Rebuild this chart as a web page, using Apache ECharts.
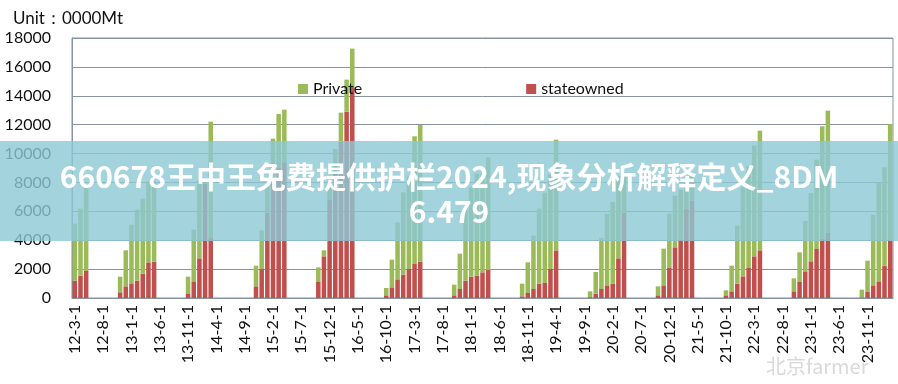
<!DOCTYPE html>
<html><head><meta charset="utf-8">
<script src="https://cdn.jsdelivr.net/npm/echarts/dist/echarts.min.js"></script>
<style>html,body{margin:0;padding:0;background:#fff}#c{width:898px;height:384px}</style>
</head><body><div id="c"></div>
<script>
// Category axis: monthly from 2012-3 to 2024-3 (labels "YY-M-1")
const startYear = 2012, startMonth = 3, monthCount = 145;
const categories = [];
for (let k = 0; k < monthCount; k++) {
  const t = (startMonth - 1) + k;
  const y = startYear + Math.floor(t / 12), m = (t % 12) + 1;
  categories.push(String(y % 100).padStart(2, '0') + '-' + m + '-1');
}
const yMin = 0, yMax = 18000, yStep = 2000;
const seriesNames = ['Private', 'stateowned'];

// stateowned (bottom, red)
const stateowned = [
  1200,1546,1915, null,null,null,null,null,
  392,808,1015,1200,1685,2470,2515, null,null,null,null,null,
  277,1154,2746,7900,4200, null,null,null,null,null,null,null,
  808,2008,5900,8000,9000,9400, null,null,null,null,null,
  1108,2885,6800,8800,10840,12900,14600, null,null,null,null,null,
  185,738,1292,1616,2008,2354,2515, null,null,null,null,null,
  185,623,1200,1477,1546,1777,1939, null,null,null,null,null,
  115,346,623,992,1038,2008,3300, null,null,null,null,null,
  60,300,623,877,992,2746,5900, null,null,null,null,null,
  185,877,2077,3508,4039,6162,6739, null,null,null,null,null,
  185,462,992,1500,2077,2885,3300, null,null,null,null,null,
  462,1108,1846,2539,3393,4108,4500, null,null,null,null,null,
  50,415,877,1154,2239,4000
];
// Private (top, green)
const privateVals = [
  3947,4639,5817, null,null,null,null,null,
  1085,2492,4060,4913,5189,5602,5557, null,null,null,null,null,
  1200,3577,5444,340,8010, null,null,null,null,null,null,null,
  1431,2677,1901,3032,3740,3640, null,null,null,null,null,
  1015,415,900,1517,1992,2217,2664, null,null,null,null,null,
  507,1916,3947,5700,6392,8840,9463, null,null,null,null,null,
  738,2447,4870,6185,7063,6832,7801, null,null,null,null,null,
  877,2124,3693,5193,6255,6532,7663, null,null,null,null,null,
  402,1500,3531,4962,5655,5724,2800, null,null,null,null,null,
  623,2539,3762,3577,3462,1847,1731, null,null,null,null,null,
  346,1777,4016,6162,7040,7663,8286, null,null,null,null,null,
  900,2054,3485,4731,6185,7778,8471, null,null,null,null,null,
  527,2170,4893,6809,6809,8048
];

const chart = echarts.init(document.getElementById('c'), null, {renderer: 'canvas'});
const axisGray = '#8793a0';
chart.setOption({
  animation: false,
  textStyle: {fontFamily: 'Lato'},
  title: {
    text: 'Unit：0000Mt', left: 8, top: 5,
    textStyle: {fontSize: 17, fontWeight: 'normal', color: '#111', fontFamily: 'Lato'}
  },
  legend: {
    data: seriesNames, left: 293, top: 76, itemWidth: 10, itemHeight: 10, itemGap: 164,
    icon: 'rect', textStyle: {fontSize: 16, color: '#111', fontFamily: 'Lato'}
  },
  grid: {left: 72, right: 5, top: 38, bottom: 86, show: true, borderColor: axisGray, borderWidth: 1},
  xAxis: {
    type: 'category', data: categories,
    axisLine: {lineStyle: {color: axisGray}},
    axisTick: {interval: 4, length: 5, lineStyle: {color: axisGray}},
    axisLabel: {interval: 4, rotate: 90, fontSize: 16, color: '#111', margin: 7, fontFamily: 'Lato'}
  },
  yAxis: {
    type: 'value', min: yMin, max: yMax, interval: yStep,
    axisLine: {show: true, lineStyle: {color: axisGray}},
    axisLabel: {fontSize: 16, color: '#111', margin: 21, fontFamily: 'Lato',
      formatter: function (v) { return String(v); }},
    splitLine: {lineStyle: {color: axisGray}}
  },
  series: [
    {name: 'stateowned', type: 'bar', stack: 'total', data: stateowned,
     itemStyle: {color: '#C0504D'}, barCategoryGap: '20%'},
    {name: 'Private', type: 'bar', stack: 'total', data: privateVals,
     itemStyle: {color: '#9BBB59'}, barCategoryGap: '20%'}
  ],
  graphic: [
    {type: 'rect', z: 100, shape: {x: 0, y: 141, width: 898, height: 100},
     style: {fill: 'rgba(140,200,212,0.8)'}},
    {type: 'text', z: 101, x: 449, y: 177,
     style: {text: '660678王中王免费提供护栏2024,现象分析解释定义_8DM', fill: '#fff',
       font: 'bold 30px "Noto Sans CJK SC"', textAlign: 'center', textVerticalAlign: 'middle'}},
    {type: 'text', z: 101, x: 449, y: 212,
     style: {text: '6.479', fill: '#fff',
       font: 'bold 30px "Noto Sans CJK SC"', textAlign: 'center', textVerticalAlign: 'middle'}},
    {type: 'text', z: 101, x: 766, y: 366,
     style: {text: '北京farmer', fill: 'rgba(170,170,170,0.45)',
       font: '20px "Noto Sans CJK SC"', textAlign: 'left', textVerticalAlign: 'middle'}}
  ]
});
</script>
</body></html>
